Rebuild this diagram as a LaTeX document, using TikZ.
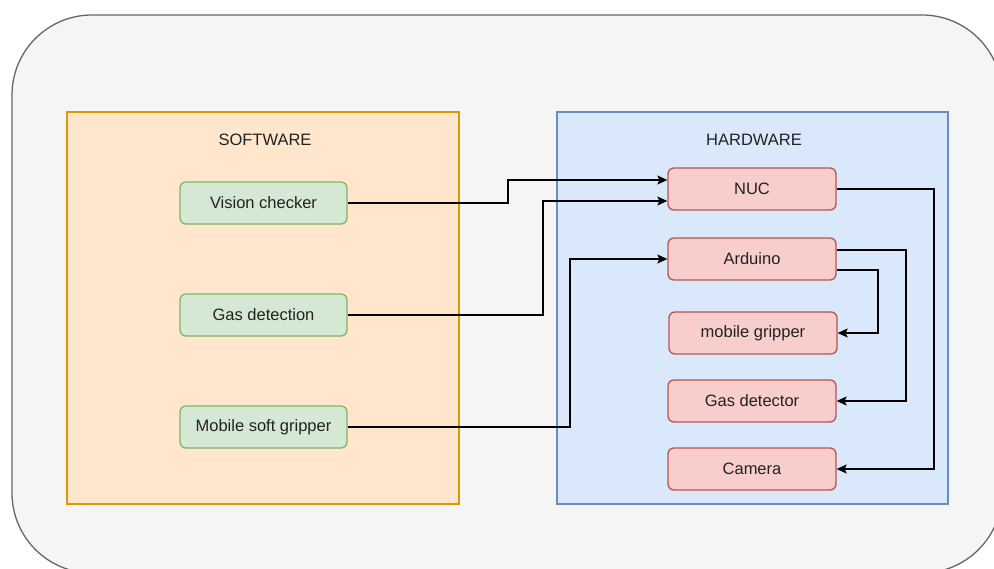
\documentclass[tikz,border=0pt]{standalone}
\usepackage{fontspec}
\setmainfont{Liberation Sans}
\usetikzlibrary{arrows.meta}
\definecolor{outerfill}{HTML}{F5F5F5}
\definecolor{outerline}{HTML}{666666}
\definecolor{swfill}{HTML}{FFE6CC}
\definecolor{swline}{HTML}{D79B00}
\definecolor{hwfill}{HTML}{DAE8FC}
\definecolor{hwline}{HTML}{6C8EBF}
\definecolor{gfill}{HTML}{D5E8D4}
\definecolor{gline}{HTML}{82B366}
\definecolor{rfill}{HTML}{F8CECC}
\definecolor{rline}{HTML}{B85450}
\definecolor{txt}{HTML}{222222}
\tikzset{
  every node/.style={font=\fontsize{16.5}{19}\selectfont, text=txt},
  swbox/.style={rectangle, rounded corners=6pt, draw=gline, fill=gfill, line width=1.3pt, minimum width=167pt, minimum height=42pt, inner sep=0pt},
  hwbox/.style={rectangle, rounded corners=6pt, draw=rline, fill=rfill, line width=1.3pt, minimum width=168pt, minimum height=42pt, inner sep=0pt},
  conn/.style={draw=black, line width=1.4pt, -{Stealth[length=10pt,width=9pt,inset=2pt]}},
}
\begin{document}
\begin{tikzpicture}[x=1pt,y=-1pt]
\useasboundingbox (0,0) rectangle (994,569);
\clip (0,0) rectangle (994,569);
% outer container
\draw[fill=outerfill, draw=outerline, line width=1.3pt, rounded corners=80pt] (12,15) rectangle (1002,573);
% group boxes
\draw[fill=swfill, draw=swline, line width=1.3pt] (67,112) rectangle (459,504);
\draw[fill=hwfill, draw=hwline, line width=1.3pt] (557,112) rectangle (948,504);
\node (swtitle) at (265,140) {SOFTWARE};
\node (hwtitle) at (754,140) {HARDWARE};
% software nodes
\node[swbox] (vis) at (263.5,203) {Vision checker};
\node[swbox] (gas) at (263.5,315) {Gas detection};
\node[swbox] (msg) at (263.5,427) {Mobile soft gripper};
% hardware nodes
\node[hwbox] (nuc) at (752,189) {NUC};
\node[hwbox] (ard) at (752,259) {Arduino};
\node[hwbox] (mg) at (753,333) {mobile gripper};
\node[hwbox] (gd) at (752,401) {Gas detector};
\node[hwbox] (cam) at (752,469) {Camera};
% connectors
\draw[conn] (vis.east) -- (508,203) -- (508,180) -- (nuc.west |- 0,180);
\draw[conn] (gas.east) -- (543,315) -- (543,201) -- (nuc.west |- 0,201);
\draw[conn] (msg.east) -- (570,427) -- (570,259) -- (ard.west);
\draw[conn] (nuc.east) -- (934,189) -- (934,469) -- (cam.east);
\draw[conn] (ard.east |- 0,250) -- (906,250) -- (906,401) -- (gd.east);
\draw[conn] (ard.east |- 0,270) -- (878,270) -- (878,333) -- (mg.east);
\end{tikzpicture}
\end{document}
